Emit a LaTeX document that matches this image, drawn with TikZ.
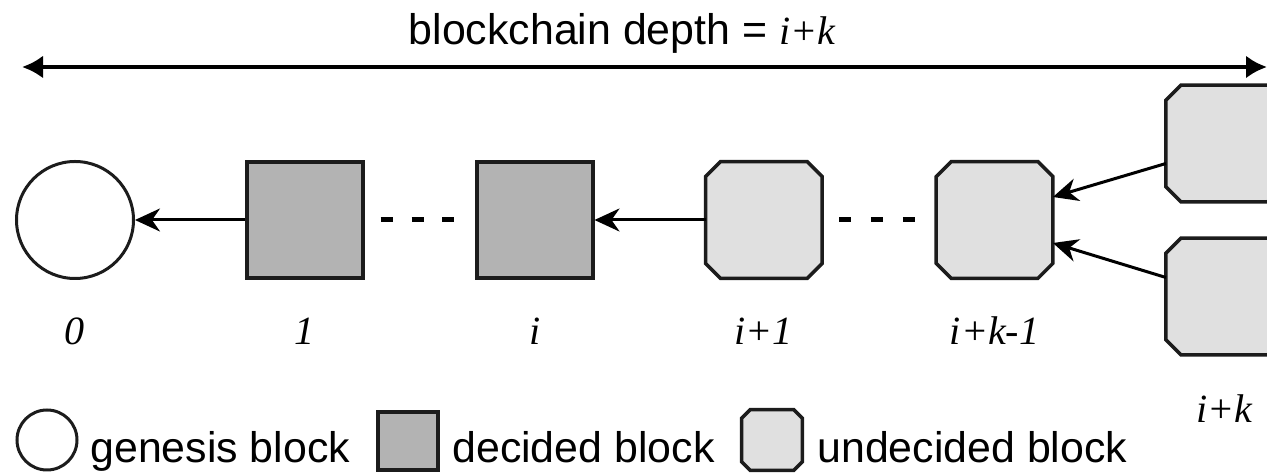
\documentclass[tikz,border=0pt]{standalone}
\usepackage{fontspec}
\setmainfont{Liberation Serif}
\setsansfont{Liberation Sans}
\usepackage{tikz}
\usetikzlibrary{arrows.meta,positioning,calc}
\definecolor{borde}{RGB}{28,28,28}
\definecolor{grisdec}{RGB}{179,179,179}
\definecolor{grisund}{RGB}{224,224,224}

\begin{document}
\begin{tikzpicture}[
gen/.style={draw=borde,circle,line width=0.06cm,minimum size=2.34cm,inner sep=0},
dec/.style={draw=borde,fill=grisdec,line width=0.07cm,minimum size=2.32cm,inner sep=0},
und/.style={rectangle,minimum size=2.32cm,inner sep=0},
oct/.style={draw=borde,fill=grisund,line width=0.07cm},
arr/.style={-{Stealth[length=0.5cm,width=0.46cm,inset=0.16cm]},line width=0.06cm},
ends/.style={{Latex[length=0.42cm,width=0.46cm]}-{Latex[length=0.42cm,width=0.46cm]},line width=0.08cm},
lbl/.style={font=\fontsize{22.8}{26}\selectfont\rmfamily\itshape,inner sep=0,anchor=base},
txt/.style={font=\fontsize{24.4}{28}\selectfont\sffamily,inner sep=0,anchor=base west},
dots/.style={line width=0.1cm}
]
\useasboundingbox (-1.5,-5.08) rectangle (23.84,4.4);
% chain
\node[gen] (g) {};
\node[dec,right=2.2cm of g] (b1) {};
\node[dec,right=2.21cm of b1] (bi) {};
\node[und,right=2.22cm of bi] (bi1) {};
\node[und,right=2.28cm of bi1] (bk1) {};
\node[und,right=2.26cm of bk1,yshift=1.53cm] (bka) {};
\node[und,right=2.26cm of bk1,yshift=-1.53cm] (bkb) {};
% legend
\node[gen,minimum size=1.2cm] (lg) at (-0.56,-4.4) {};
\node[txt] (tg) at (0.3,-4.86) {genesis block};
\node[dec,minimum width=1.2cm,minimum height=1.16cm] (ld) at (6.66,-4.42) {};
\node[txt] (td) at (7.54,-4.86) {decided block};
\node[und,minimum size=1.2cm] (lu) at (13.94,-4.4) {};
\node[txt] (tu) at (14.84,-4.86) {undecided block};
% octagons
\foreach \n/\c in {bi1/0.3,bk1/0.3,bka/0.3,bkb/0.3,lu/0.17}
  \filldraw[oct]([xshift=\c cm]\n.north west)--([xshift=-\c cm]\n.north east)
    --([yshift=-\c cm]\n.north east)--([yshift=\c cm]\n.south east)
    --([xshift=-\c cm]\n.south east)--([xshift=\c cm]\n.south west)
    --([yshift=\c cm]\n.south west)--([yshift=-\c cm]\n.north west)--cycle;
\draw[arr](b1)--(g);
\draw[arr](bi1)--(bi);
\draw[arr]([yshift=-0.4cm]bka.west)--([yshift=0.46cm]bk1.east);
\draw[arr]([yshift=0.38cm]bkb.west)--([yshift=-0.46cm]bk1.east);
\foreach \a/\b in {b1/bi,bi1/bk1}
  \foreach \t in {0.2,0.48,0.76}
    \draw[dots]($(\a.east)!\t!(\b.west)+(-0.12,0)$)--++(0.24,0);
% labels
\node[lbl] (l0) at ([yshift=-2.5cm]g.center) {0};
\node[lbl] (l1) at ([yshift=-2.5cm]b1.center) {1};
\node[lbl] (li) at ([yshift=-2.5cm]bi.center) {i};
\node[lbl] (li1) at ([yshift=-2.5cm]bi1.center) {i+1};
\node[lbl] (lk1) at ([yshift=-2.5cm]bk1.center) {i+k-1};
\node[lbl] (lk) at ([yshift=-2.52cm]bkb.center) {i+k};
% depth
\coordinate (izq) at (-1.06,3.06);
\coordinate (der) at (23.84,3.06);
\draw[ends](izq)--(der);
\node[txt,anchor=base] (tit) at (10.94,3.5) {blockchain depth = {\fontsize{22.8}{26}\selectfont\rmfamily\itshape i+k}};
\end{tikzpicture}
\end{document}
